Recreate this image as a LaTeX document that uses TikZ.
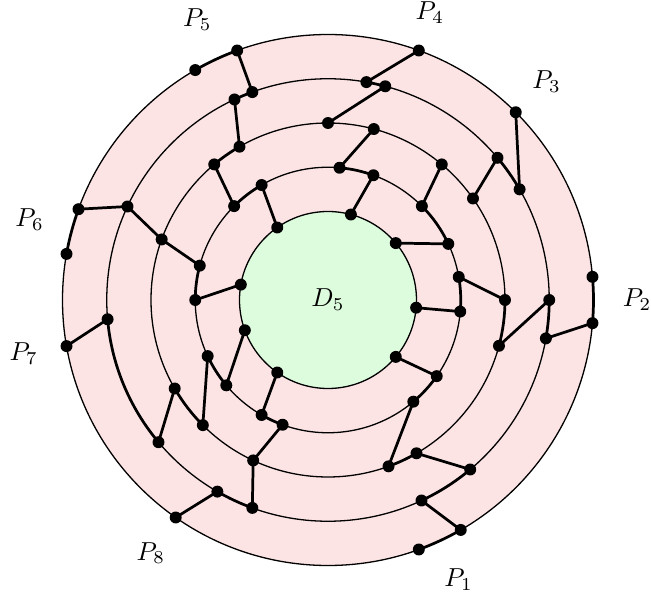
\documentclass[tikz,border=0pt]{standalone}
\usetikzlibrary{calc}
\definecolor{ringpink}{RGB}{253,228,228}
\definecolor{diskgreen}{RGB}{221,252,221}
\begin{document}
\begin{tikzpicture}[x=0.3846pt,y=0.3846pt,
  dot/.style={circle,fill=black,inner sep=0pt,minimum size=4.6pt},
  ringline/.style={draw=black,line width=0.5pt},
  edge/.style={line width=1.05pt,line cap=round},
  lab/.style={inner sep=0pt}]
\def\rrA{265.5}
\def\rrB{221.25}
\def\rrC{177}
\def\rrD{132.75}
\def\rrE{88.5}
\useasboundingbox (-328,-301) rectangle (323,300);
% rings
\fill[ringpink] (0,0) circle (\rrA);
\draw[ringline] (0,0) circle (\rrA);
\draw[ringline] (0,0) circle (\rrB);
\draw[ringline] (0,0) circle (\rrC);
\draw[ringline] (0,0) circle (\rrD);
\draw[ringline,fill=diskgreen] (0,0) circle (\rrE);
\node (D) at (0,0) {$D_5$};
% labels
\node[lab] (P1) at (295:309) {$P_1$};
\node[lab] (P2) at (0:309) {$P_2$};
\node[lab] (P3) at (45:309) {$P_3$};
\node[lab] (P4) at (70.5:305) {$P_4$};
\node[lab] (P5) at (115:309) {$P_5$};
\node[lab] (P6) at (165:309) {$P_6$};
\node[lab] (P7) at (190:309) {$P_7$};
\node[lab] (P8) at (235:309) {$P_8$};
% points
\foreach \n/\a in {a1/110,a2/120,a3/160,a4/170,a5/190,a6/235,a7/290,a8/300,a9/355,a10/5,a11/45,a12/70}
  \node[dot] (\n) at (\a:\rrA) {};
\foreach \n/\a in {b1/110,b2/115,b3/155,b4/185,b5/220,b6/240,b7/250,b8/295,b9/310,b10/350,b11/0,b12/30,b13/40,b14/75,b15/80}
  \node[dot] (\n) at (\a:\rrB) {};
\foreach \n/\a in {c1/120,c2/130,c3/160,c4/210,c5/225,c6/245,c7/290,c8/300,c9/345,c10/0,c11/35,c12/50,c13/75,c14/90}
  \node[dot] (\n) at (\a:\rrC) {};
\foreach \n/\a in {d1/120,d2/135,d3/165,d4/180,d5/205,d6/220,d7/240,d8/250,d9/310,d10/325,d11/355,d12/10,d13/25,d14/45,d15/70,d16/85}
  \node[dot] (\n) at (\a:\rrD) {};
\foreach \n/\a in {e1/125,e2/170,e3/200,e4/235,e5/320,e6/355,e7/40,e8/75}
  \node[dot] (\n) at (\a:\rrE) {};
% straight connectors
\foreach \p/\q in {a1/b1,b2/c1,c2/d2,d1/e1,a3/b3,b3/c3,c3/d3,d4/e2,a12/b15,b14/c14,c13/d16,d15/e8,c12/d14,e7/d13,a11/b12,b13/c11,d12/c10,e6/d11,c9/b11,b10/a9,e5/d10,d9/c7,c8/b9,b8/a8,b4/a5,b5/c4,c5/d5,d6/e3,e4/d7,d8/c6,c6/b7,b6/a6}
  \draw[edge] (\p.center) -- (\q.center);
% arcs along the circles
\draw[edge] (a2.center) arc[start angle=120,end angle=110,radius=\rrA];
\draw[edge] (b1.center) arc[start angle=110,end angle=115,radius=\rrB];
\draw[edge] (c1.center) arc[start angle=120,end angle=130,radius=\rrC];
\draw[edge] (d2.center) arc[start angle=135,end angle=120,radius=\rrD];
\draw[edge] (a3.center) arc[start angle=160,end angle=170,radius=\rrA];
\draw[edge] (d3.center) arc[start angle=165,end angle=180,radius=\rrD];
\draw[edge] (b15.center) arc[start angle=80,end angle=75,radius=\rrB];
\draw[edge] (d16.center) arc[start angle=85,end angle=70,radius=\rrD];
\draw[edge] (d14.center) arc[start angle=45,end angle=25,radius=\rrD];
\draw[edge] (b13.center) arc[start angle=40,end angle=30,radius=\rrB];
\draw[edge] (d12.center) arc[start angle=10,end angle=-5,radius=\rrD];
\draw[edge] (a10.center) arc[start angle=5,end angle=-5,radius=\rrA];
\draw[edge] (c10.center) arc[start angle=0,end angle=-15,radius=\rrC];
\draw[edge] (b11.center) arc[start angle=0,end angle=-10,radius=\rrB];
\draw[edge] (d10.center) arc[start angle=325,end angle=310,radius=\rrD];
\draw[edge] (c7.center) arc[start angle=290,end angle=300,radius=\rrC];
\draw[edge] (b9.center) arc[start angle=310,end angle=295,radius=\rrB];
\draw[edge] (a8.center) arc[start angle=300,end angle=290,radius=\rrA];
\draw[edge] (b4.center) arc[start angle=185,end angle=220,radius=\rrB];
\draw[edge] (c4.center) arc[start angle=210,end angle=225,radius=\rrC];
\draw[edge] (d5.center) arc[start angle=205,end angle=220,radius=\rrD];
\draw[edge] (d7.center) arc[start angle=240,end angle=250,radius=\rrD];
\draw[edge] (b7.center) arc[start angle=250,end angle=240,radius=\rrB];
\end{tikzpicture}
\end{document}
